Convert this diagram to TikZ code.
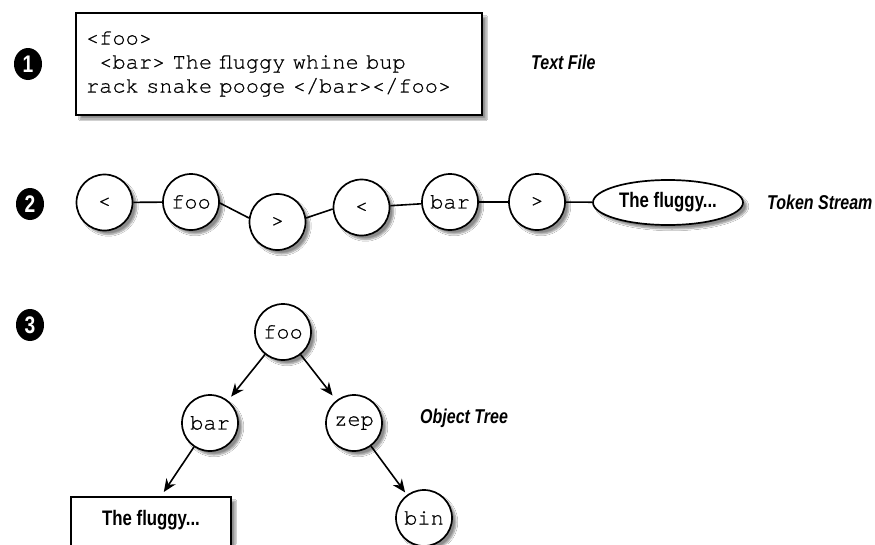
\documentclass[tikz,border=0pt]{standalone}
\usepackage{fontspec}
\setmonofont[FakeBold=0.6]{TeX Gyre Cursor}
\newfontfamily\condfont[FakeStretch=0.8]{Liberation Sans}
\usetikzlibrary{shapes.geometric,shadows.blur,arrows.meta}
\begin{document}
\begin{tikzpicture}[x=1pt,y=-1pt,
  shad/.style={blur shadow={shadow xshift=4pt,shadow yshift=-4pt,shadow blur steps=6,shadow opacity=45}},
  tok/.style={circle,draw,line width=1.7pt,fill=white,minimum size=56pt,inner sep=0pt,font=\ttfamily\fontsize{22}{24}\selectfont,shad},
  num/.style={ellipse,fill=black,minimum width=28pt,minimum height=32pt,inner sep=0pt,text=white,font=\condfont\bfseries\fontsize{24}{24}\selectfont},
  lab/.style={font=\condfont\bfseries\itshape\fontsize{20}{20}\selectfont,anchor=west,inner sep=0pt},
  cond/.style={font=\condfont\bfseries\fontsize{21}{21}\selectfont},
  link/.style={line width=1.6pt},
  arr/.style={line width=1.6pt,-{Stealth[length=13pt,width=11pt]}}
]
\useasboundingbox (0,0) rectangle (875,544);
\fill[white] (0,0) rectangle (875,544);

% step numbers
\node[num] (n1) at (28,64) {1};
\node[num] (n2) at (30,204) {2};
\node[num] (n3) at (30,325) {3};

% 1: text file
\node[draw,line width=2pt,fill=white,shad,minimum width=406pt,minimum height=102pt,inner sep=0pt,
      align=left,text width=386pt,font=\ttfamily\fontsize{22}{24}\selectfont] (file) at (279,64)
  {<foo>\\\phantom{x}<bar> The fluggy whine bup\\rack snake pooge </bar></foo>};
\node[lab] (lfile) at (531,62) {Text File};

% 2: token stream
\node[tok] (t1) at (104.5,202.5) {<};
\node[tok] (t2) at (191,202) {foo};
\node[tok] (t3) at (277.5,222) {>};
\node[tok] (t4) at (361.5,207.5) {<};
\node[tok] (t5) at (450,202) {bar};
\node[tok] (t6) at (537,202) {>};
\node[ellipse,draw,line width=1.7pt,fill=white,shad,minimum width=150pt,minimum height=45pt,inner sep=0pt,cond] (t7) at (668,202.5) {The fluggy...};
\node[lab] (lstream) at (767,202) {Token Stream};
\draw[link] (t1) -- (t2);
\draw[link] (t2.-2) -- (t3.172);
\draw[link] (t3.8) -- (t4.183);
\draw[link] (t4) -- (t5);
\draw[link] (t5) -- (t6);
\draw[link] (t6) -- (t7);

% 3: object tree
\node[tok] (o1) at (283,332) {foo};
\node[tok] (o2) at (210,423) {bar};
\node[tok] (o3) at (354,423) {zep};
\node[tok] (o4) at (424,518) {bin};
\node[draw,line width=1.7pt,fill=white,shad,minimum width=160pt,minimum height=64pt,inner sep=0pt] (rbox) at (151,529) {};
\node[cond] (rtext) at (151,520) {The fluggy...};
\node[lab] (ltree) at (420,418) {Object Tree};
\draw[arr,shorten >=5pt] (o1) -- (o2);
\draw[arr,shorten >=6pt] (o1) -- (o3);
\draw[arr,shorten >=5pt] (o2) -- ([xshift=10pt]rbox.north);
\draw[arr,shorten >=3pt] (o3) -- (o4);
\end{tikzpicture}
\end{document}
